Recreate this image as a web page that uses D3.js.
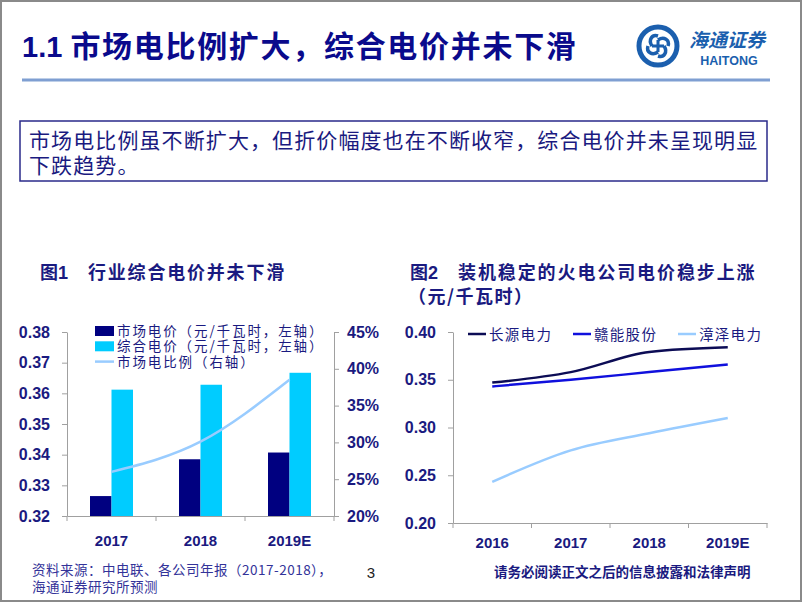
<!DOCTYPE html>
<html><head><meta charset="utf-8">
<script src="https://cdn.jsdelivr.net/npm/d3@7"></script>
<style>
body{margin:0;background:#fff;}
svg text{font-family:"Noto Sans CJK SC","Noto Sans",sans-serif;}
.num{font-family:"Liberation Sans",Arial,sans-serif;font-weight:bold;}
</style></head><body>
<svg id="c" width="802" height="602"></svg>
<script>
// ---- Data ----
const categories1 = ["2017", "2018", "2019E"];
const marketPrice = [0.3265, 0.3385, 0.3407];      // 市场电价
const compositePrice = [0.3612, 0.3628, 0.3667];   // 综合电价
const marketShare = [0.260, 0.301, 0.385];         // 市场电比例
const leftTicks1 = [0.32, 0.33, 0.34, 0.35, 0.36, 0.37, 0.38];
const rightTicks1 = [0.20, 0.25, 0.30, 0.35, 0.40, 0.45];
const legend1 = ["市场电价（元/千瓦时，左轴）", "综合电价（元/千瓦时，左轴）", "市场电比例（右轴）"];

const categories2 = ["2016", "2017", "2018", "2019E"];
const changyuan = [0.347, 0.358, 0.379, 0.384];   // 长源电力
const ganneng = [0.343, 0.350, 0.358, 0.366];     // 赣能股份
const zhangze = [0.243, 0.276, 0.294, 0.310];     // 漳泽电力
const seriesNames2 = ["长源电力", "赣能股份", "漳泽电力"];
const leftTicks2 = [0.20, 0.25, 0.30, 0.35, 0.40];

const navy = "#1a1a80";
const svg = d3.select("#c");

// page frame
svg.append("rect").attr("x",1).attr("y",1).attr("width",800).attr("height",600)
  .attr("fill","#fff").attr("stroke","#8a8a8a").attr("stroke-width",2);

// header
const title = svg.append("text").attr("x",22).attr("y",57).attr("fill","#0a0a8c")
  .attr("font-weight","bold");
title.append("tspan").attr("class","num").attr("font-size",29).text("1.1 ");
title.append("tspan").attr("font-size",30).attr("letter-spacing",1.7).text("市场电比例扩大，综合电价并未下滑");
svg.append("line").attr("x1",22).attr("x2",770).attr("y1",80).attr("y2",80)
  .attr("stroke","#7f9fd2").attr("stroke-width",3);

// logo
const logo = svg.append("g").attr("transform","translate(658,46)");
logo.append("circle").attr("r",19).attr("fill","none").attr("stroke","#1b5fae").attr("stroke-width",5);
[0,90,180,270].forEach(a=>{
  logo.append("path").attr("d","M0,-6 C6,-10 12,-6 10,0").attr("fill","none")
   .attr("stroke","#1b5fae").attr("stroke-width",3.5).attr("transform",`rotate(${a})`);
});
logo.append("rect").attr("x",-6).attr("y",-1.5).attr("width",12).attr("height",3).attr("fill","#1b5fae");
logo.append("rect").attr("x",-1.5).attr("y",-6).attr("width",3).attr("height",12).attr("fill","#1b5fae");
svg.append("text").attr("x",727).attr("y",47).attr("text-anchor","middle").attr("font-size",19)
  .attr("font-style","italic").attr("fill","#1b5fae").attr("font-weight","bold").text("海通证券");
svg.append("text").attr("class","num").attr("x",729).attr("y",65).attr("text-anchor","middle")
  .attr("font-size",12.5).attr("fill","#1b5fae").text("HAITONG");

// box
svg.append("rect").attr("x",20).attr("y",121).attr("width",747).attr("height",60)
  .attr("fill","#fff").attr("stroke","#2a2a8a").attr("stroke-width",1.5);
svg.append("text").attr("x",29).attr("y",148).attr("font-size",21).attr("letter-spacing",1.1).attr("fill",navy)
  .text("市场电比例虽不断扩大，但折价幅度也在不断收窄，综合电价并未呈现明显");
svg.append("text").attr("x",29).attr("y",173).attr("font-size",21).attr("letter-spacing",1.1).attr("fill",navy).text("下跌趋势。");

// chart titles
const t1 = svg.append("text").attr("x",40).attr("y",279).attr("font-size",18).attr("fill",navy).attr("font-weight","bold");
t1.append("tspan").text("图");
t1.append("tspan").attr("class","num").text("1");
t1.append("tspan").attr("dx",20).attr("letter-spacing",1.8).text("行业综合电价并未下滑");
const t2 = svg.append("text").attr("x",410).attr("y",279).attr("font-size",18).attr("fill",navy).attr("font-weight","bold");
t2.append("tspan").text("图");
t2.append("tspan").attr("class","num").text("2");
t2.append("tspan").attr("dx",20).attr("letter-spacing",1.9).text("装机稳定的火电公司电价稳步上涨");
svg.append("text").attr("x",408).attr("y",303).attr("font-size",18).attr("letter-spacing",1.5).attr("fill",navy).attr("font-weight","bold")
  .text("（元/千瓦时）");

// ---- Chart 1 ----
const x1 = d3.scaleBand().domain(categories1).range([67,334]);
const y1 = d3.scaleLinear().domain([0.32,0.38]).range([516,332]);
const y1r = d3.scaleLinear().domain([0.20,0.45]).range([516,332]);
const axisColor = "#a0a0a0";
function styleAxis(g, fs){
  g.select(".domain").attr("stroke",axisColor);
  g.selectAll(".tick line").attr("stroke",axisColor);
  g.selectAll(".tick text").attr("class","num").attr("fill",navy).attr("font-size",fs);
}
svg.append("g").attr("transform","translate(67,0)")
  .call(d3.axisLeft(y1).tickValues(leftTicks1).tickFormat(d3.format(".2f")).tickSize(5).tickSizeOuter(0).tickPadding(12))
  .call(g=>styleAxis(g,16));
svg.append("g").attr("transform","translate(334,0)")
  .call(d3.axisRight(y1r).tickValues(rightTicks1).tickFormat(d3.format(".0%")).tickSize(5).tickSizeOuter(0).tickPadding(8))
  .call(g=>styleAxis(g,16));
const xa1 = svg.append("g").attr("transform","translate(0,516)")
  .call(d3.axisBottom(x1).tickSize(0).tickPadding(19))
  .call(g=>styleAxis(g,15));
xa1.selectAll(".tick line").remove();
[0,1,2,3].forEach(i=>{
  const xx = 67 + i*x1.step();
  svg.append("line").attr("x1",xx).attr("x2",xx).attr("y1",516).attr("y2",521).attr("stroke",axisColor);
});
const bw = 21.5;
svg.append("g").selectAll("rect").data(categories1).join("rect")
  .attr("x",d=>x1(d)+x1.bandwidth()/2-bw).attr("width",bw)
  .attr("y",(d,i)=>y1(marketPrice[i])).attr("height",(d,i)=>516-y1(marketPrice[i]))
  .attr("fill","#000080");
svg.append("g").selectAll("rect").data(categories1).join("rect")
  .attr("x",d=>x1(d)+x1.bandwidth()/2).attr("width",bw)
  .attr("y",(d,i)=>y1(compositePrice[i])).attr("height",(d,i)=>516-y1(compositePrice[i]))
  .attr("fill","#00ccff");
const line1 = d3.line().x((d,i)=>x1(categories1[i])+x1.bandwidth()/2).y(d=>y1r(d)).curve(d3.curveMonotoneX);
svg.append("path").attr("d",line1(marketShare)).attr("fill","none").attr("stroke","#99ccff").attr("stroke-width",2.5);

// legend 1
const lg1 = svg.append("g");
[0,1,2].forEach(i=>{
  const yy = 331 + i*15.3;
  if(i<2) lg1.append("rect").attr("x",95).attr("y",yy-5).attr("width",19).attr("height",10)
    .attr("fill", i===0?"#000080":"#00ccff");
  else lg1.append("line").attr("x1",95).attr("x2",114).attr("y1",yy).attr("y2",yy).attr("stroke","#99ccff").attr("stroke-width",2.5);
  lg1.append("text").attr("x",117).attr("y",yy+5).attr("font-size",13.5).attr("letter-spacing",1.9).attr("fill",navy).text(legend1[i]);
});

// ---- Chart 2 ----
const x2 = d3.scaleBand().domain(categories2).range([453,767]);
const y2 = d3.scaleLinear().domain([0.20,0.40]).range([523,332]);
svg.append("g").attr("transform","translate(453,0)")
  .call(d3.axisLeft(y2).tickValues(leftTicks2).tickFormat(d3.format(".2f")).tickSize(5).tickSizeOuter(0).tickPadding(12))
  .call(g=>styleAxis(g,16));
const xa2 = svg.append("g").attr("transform","translate(0,523)")
  .call(d3.axisBottom(x2).tickSize(0).tickPadding(14))
  .call(g=>styleAxis(g,15));
[0,1,2,3,4].forEach(i=>{
  const xx = 453 + i*x2.step();
  svg.append("line").attr("x1",xx).attr("x2",xx).attr("y1",523).attr("y2",528).attr("stroke",axisColor);
});
const series2 = [changyuan, ganneng, zhangze];
const colors2 = ["#0c0c55", "#1010dd", "#99ccff"];
const line2 = d3.line().x((d,i)=>x2(categories2[i])+x2.bandwidth()/2).y(d=>y2(d)).curve(d3.curveMonotoneX);
series2.forEach((s,k)=>{
  svg.append("path").attr("d",line2(s)).attr("fill","none").attr("stroke",colors2[k]).attr("stroke-width",2.5);
});
const legX = [468, 573, 678];
seriesNames2.forEach((n,k)=>{
  svg.append("line").attr("x1",legX[k]).attr("x2",legX[k]+18).attr("y1",334).attr("y2",334)
    .attr("stroke",colors2[k]).attr("stroke-width",2.5);
  svg.append("text").attr("x",legX[k]+21).attr("y",339.5).attr("font-size",14.5).attr("letter-spacing",1.3).attr("fill",navy).text(n);
});

// footer
svg.append("text").attr("x",32).attr("y",575).attr("font-size",13.5).attr("letter-spacing",0.5).attr("fill","#333399")
  .text("资料来源：中电联、各公司年报（2017-2018），");
svg.append("text").attr("x",32).attr("y",592).attr("font-size",13.5).attr("letter-spacing",0.5).attr("fill","#333399").text("海通证券研究所预测");
svg.append("text").attr("x",371).attr("y",578).attr("font-size",15)
  .style("font-family","'Liberation Sans',Arial,sans-serif").attr("text-anchor","middle").attr("fill","#222").text("3");
svg.append("text").attr("x",494).attr("y",577).attr("font-size",13.5).attr("fill","#1a1a80").attr("font-weight","bold")
  .text("请务必阅读正文之后的信息披露和法律声明");
</script></body></html>
